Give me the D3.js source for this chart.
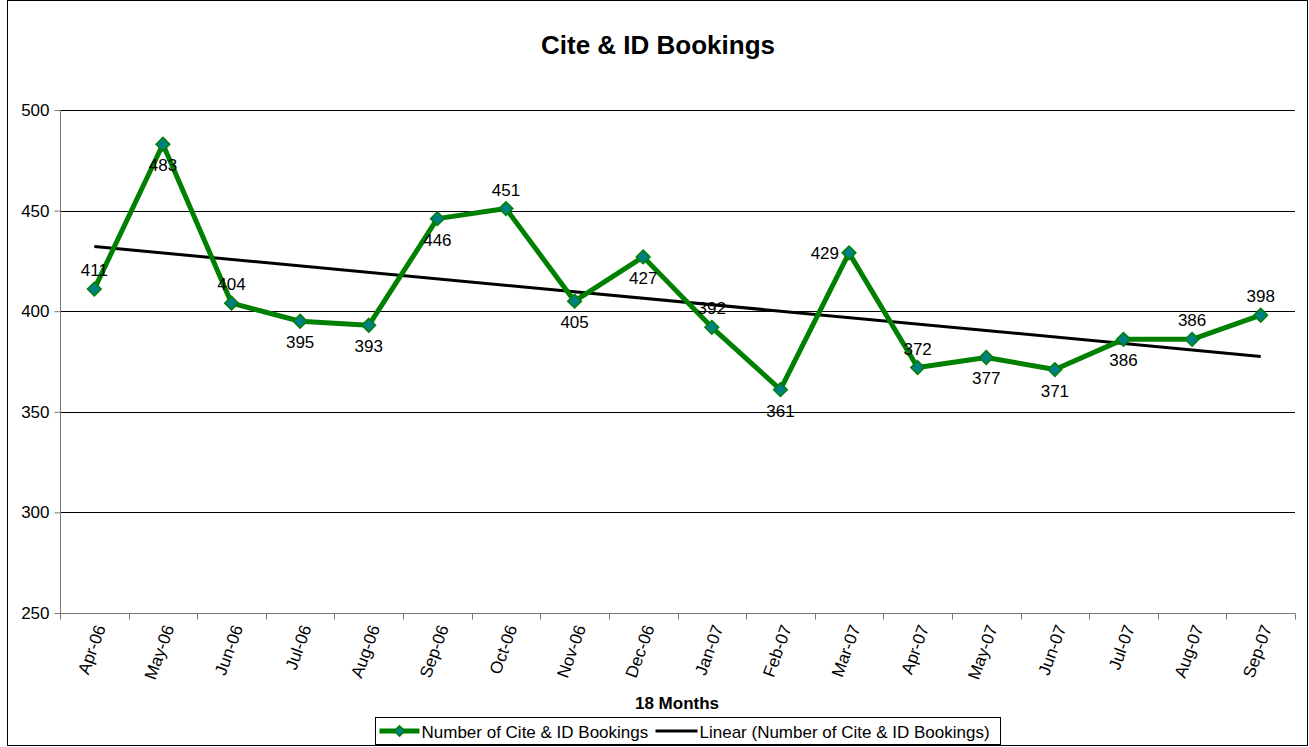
<!DOCTYPE html>
<html>
<head>
<meta charset="utf-8">
<script src="https://cdn.jsdelivr.net/npm/d3@7"></script>
<style>
  body { margin: 0; background: #fff; }
  svg { font-family: "Liberation Sans", Arial, sans-serif; }
</style>
</head>
<body>
<svg id="chart" width="1309" height="747"></svg>
<script>
// months along the x axis
var months = ["Apr-06", "May-06", "Jun-06", "Jul-06", "Aug-06", "Sep-06",
              "Oct-06", "Nov-06", "Dec-06", "Jan-07", "Feb-07", "Mar-07",
              "Apr-07", "May-07", "Jun-07", "Jul-07", "Aug-07", "Sep-07"];
// number of cite & id bookings per month
var bookings = [411, 483, 404, 395, 393, 446, 451, 405, 427, 392, 361, 429,
                372, 377, 371, 386, 386, 398];
// where excel put each data label
var labelPos = ["above", "below", "above", "below", "below", "below",
                "above", "below", "below", "above", "below", "left",
                "above", "below", "below", "below", "above", "above"];
var yTicks = [250, 300, 350, 400, 450, 500];

var svg = d3.select("#chart");
var margin = {left: 60, right: 14, top: 110, bottom: 134};
var width = 1309 - margin.left - margin.right;
var height = 747 - margin.top - margin.bottom;
var FONT = "17px";

// outer chart border
svg.append("rect")
   .attr("x", 7.5).attr("y", 0.5)
   .attr("width", 1300).attr("height", 745)
   .attr("fill", "none").attr("stroke", "#000").attr("stroke-width", 1);

svg.append("text")
   .attr("x", 658).attr("y", 54)
   .attr("text-anchor", "middle")
   .style("font-size", "26px").style("font-weight", "bold")
   .text("Cite & ID Bookings");

var g = svg.append("g")
           .attr("transform", "translate(" + margin.left + "," + margin.top + ")");

var x = d3.scaleBand().domain(months).range([0, width]);
var y = d3.scaleLinear().domain([250, 500]).range([height, 0]);
var cx = function(m) { return x(m) + x.bandwidth() / 2; };

// horizontal grid lines
g.selectAll(".grid")
 .data(yTicks.filter(function(d) { return d > 250; }))
 .enter().append("line")
 .attr("x1", 0).attr("x2", width)
 .attr("y1", function(d) { return Math.round(y(d)) + 0.5; })
 .attr("y2", function(d) { return Math.round(y(d)) + 0.5; })
 .attr("stroke", "#000").attr("stroke-width", 1);

// y axis
var yaxisG = g.append("g")
    .attr("transform", "translate(0.5,0)")
    .call(d3.axisLeft(y).tickValues(yTicks).tickSize(6).tickPadding(5));
yaxisG.selectAll("text").style("font-size", FONT).attr("fill", "#000");
yaxisG.selectAll("line, path").attr("stroke", "#777");
yaxisG.select(".domain").attr("d", "M0,0V" + height);

// x axis: ticks between categories
var xaxisG = g.append("g").attr("transform", "translate(0," + (Math.round(height) + 0.5) + ")");
xaxisG.append("line").attr("x1", 0).attr("x2", width).attr("stroke", "#777");
xaxisG.selectAll(".tk")
      .data(d3.range(months.length + 1))
      .enter().append("line")
      .attr("x1", function(i) { return Math.round(i * x.step()) + 0.5; })
      .attr("x2", function(i) { return Math.round(i * x.step()) + 0.5; })
      .attr("y1", 0).attr("y2", 6)
      .attr("stroke", "#777");
xaxisG.selectAll(".lbl")
      .data(months)
      .enter().append("text")
      .attr("transform", function(d) {
          return "translate(" + (cx(d) + 6) + ",12) rotate(-70)";
      })
      .attr("text-anchor", "end")
      .attr("dy", "0.35em")
      .style("font-size", FONT)
      .text(function(d) { return d; });

svg.append("text")
   .attr("x", 677).attr("y", 709)
   .attr("text-anchor", "middle")
   .style("font-size", FONT).style("font-weight", "bold")
   .text("18 Months");

// linear trend line (least squares over category index)
var n = bookings.length;
var mx = (n - 1) / 2;
var my = d3.mean(bookings);
var sxy = d3.sum(bookings, function(v, i) { return (i - mx) * (v - my); });
var sxx = d3.sum(bookings, function(v, i) { return (i - mx) * (i - mx); });
var slope = sxy / sxx;
var trend = [my - slope * mx, my + slope * (n - 1 - mx)];

g.append("line")
 .attr("x1", cx(months[0])).attr("y1", y(trend[0]))
 .attr("x2", cx(months[n - 1])).attr("y2", y(trend[1]))
 .attr("stroke", "#000").attr("stroke-width", 3);

// data series
var line = d3.line()
    .x(function(d, i) { return cx(months[i]); })
    .y(function(d) { return y(d); });
g.append("path")
 .datum(bookings)
 .attr("d", line)
 .attr("fill", "none")
 .attr("stroke", "#008000")
 .attr("stroke-width", 5)
 .attr("stroke-linejoin", "round");

var diamond = d3.symbol().type(d3.symbolDiamond2).size(120);
g.selectAll(".mk")
 .data(bookings)
 .enter().append("path")
 .attr("d", diamond)
 .attr("transform", function(d, i) {
     return "translate(" + cx(months[i]) + "," + y(d) + ")";
 })
 .attr("fill", "#008080")
 .attr("stroke", "#008000")
 .attr("stroke-width", 1.5);

// data labels
g.selectAll(".dl")
 .data(bookings)
 .enter().append("text")
 .attr("x", function(d, i) {
     return labelPos[i] == "left" ? cx(months[i]) - 10 : cx(months[i]);
 })
 .attr("y", function(d, i) {
     var p = labelPos[i];
     if (p == "above") return y(d) - 13;
     if (p == "below") return y(d) + 27;
     return y(d) + 6;
 })
 .attr("text-anchor", function(d, i) { return labelPos[i] == "left" ? "end" : "middle"; })
 .style("font-size", FONT)
 .text(function(d) { return d; });

// legend
var lg = svg.append("g").attr("transform", "translate(375.5,717.5)");
lg.append("rect").attr("width", 625).attr("height", 27)
  .attr("fill", "#fff").attr("stroke", "#000");
lg.append("line").attr("x1", 4).attr("x2", 44).attr("y1", 13.5).attr("y2", 13.5)
  .attr("stroke", "#008000").attr("stroke-width", 5);
lg.append("path").attr("d", d3.symbol().type(d3.symbolDiamond2).size(70))
  .attr("transform", "translate(24,13.5)")
  .attr("fill", "#008080").attr("stroke", "#008000").attr("stroke-width", 1.5);
lg.append("text").attr("x", 46).attr("y", 20).style("font-size", FONT)
  .text("Number of Cite & ID Bookings");
lg.append("line").attr("x1", 280).attr("x2", 322).attr("y1", 13.5).attr("y2", 13.5)
  .attr("stroke", "#000").attr("stroke-width", 3);
lg.append("text").attr("x", 324).attr("y", 20).style("font-size", FONT)
  .text("Linear (Number of Cite & ID Bookings)");
</script>
</body>
</html>
